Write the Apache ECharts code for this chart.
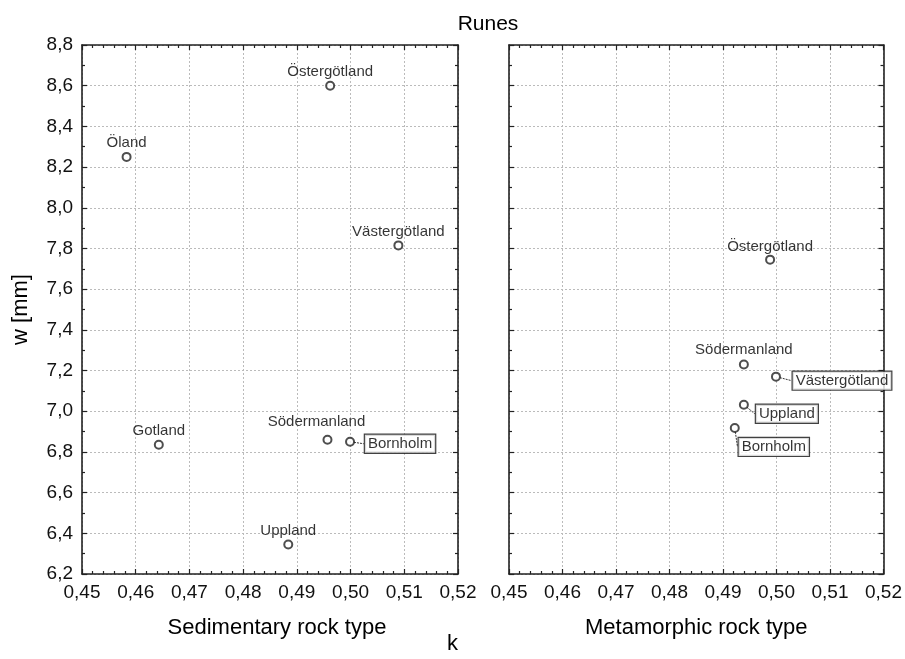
<!DOCTYPE html>
<html>
<head>
<meta charset="utf-8">
<script src="https://cdn.jsdelivr.net/npm/echarts@6/dist/echarts.min.js"></script>
<style>html,body{margin:0;padding:0;background:#fff}#c{width:905px;height:659px}</style>
</head>
<body>
<div id="c"></div>
<script>
// ---- data ----
var sedNames = ['Öland', 'Östergötland', 'Västergötland', 'Gotland', 'Södermanland', 'Bornholm', 'Uppland'];
var sedK     = [0.4583, 0.4962, 0.5089, 0.4643, 0.4957, 0.4999, 0.4884];
var sedW     = [8.25, 8.60, 7.815, 6.835, 6.86, 6.85, 6.345];

var metNames = ['Östergötland', 'Södermanland', 'Västergötland', 'Uppland', 'Bornholm'];
var metK     = [0.4988, 0.4939, 0.4999, 0.4939, 0.4922];
var metW     = [7.745, 7.23, 7.17, 7.032, 6.918];

var xTicks = [0.45, 0.46, 0.47, 0.48, 0.49, 0.50, 0.51, 0.52];
var yTicks = [6.2, 6.4, 6.6, 6.8, 7.0, 7.2, 7.4, 7.6, 7.8, 8.0, 8.2, 8.4, 8.6, 8.8];

// ---- label placement (offsets of label centre from point, px; boxed?) ----
var sedPlace = {
  'Öland': [0, -14, false], 'Östergötland': [0, -14, false], 'Västergötland': [0, -14, false],
  'Gotland': [0, -14, false], 'Södermanland': [-11, -18, false], 'Bornholm': [50, 2, true], 'Uppland': [0, -14, false]
};
var metPlace = {
  'Östergötland': [0, -13, false], 'Södermanland': [0, -15, false], 'Västergötland': [66, 4, true],
  'Uppland': [43, 9, true], 'Bornholm': [39, 19, true]
};

var FONT = '"Liberation Sans", Arial, sans-serif';
var chart = echarts.init(document.getElementById('c'), null, {renderer: 'canvas'});

function fmt(d) { return function (v) { return v.toFixed(d).replace('.', ','); }; }

function buildData(names, ks, ws, place) {
  return names.map(function (n, i) {
    var p = place[n];
    var label = {show: true, formatter: n, fontSize: 15, fontFamily: FONT, color: '#000'};
    if (p[2]) {
      label.borderColor = '#111'; label.borderWidth = 1.2; label.padding = [2, 3, 1, 3];
      label.backgroundColor = '#fff';
    }
    return {name: n, value: [ks[i], ws[i]], label: label,
      labelLine: {show: p[2], length2: 0, lineStyle: {color: '#333', width: 1, type: [2, 1]}}};
  });
}

function layoutFn(names, place) {
  return function (params) {
    var p = place[names[params.dataIndex]];
    var r = params.rect;
    return {x: r.x + r.width / 2 + p[0], y: r.y + r.height / 2 + p[1], align: 'center', verticalAlign: 'middle'};
  };
}

var grids = [
  {left: 82, top: 45, width: 376, height: 529},
  {left: 509, top: 45, width: 377, height: 529}
];

var AX = '#222';
var xAxes = [], yAxes = [];
[0, 1].forEach(function (g) {
  var names = ['Sedimentary rock type', 'Metamorphic rock type'];
  xAxes.push({
    type: 'value', gridIndex: g, min: xTicks[0], max: xTicks[xTicks.length - 1], interval: 0.01,
    position: 'bottom',
    axisLine: {show: true, lineStyle: {color: AX, width: 1.6}},
    axisTick: {show: true, inside: true, length: 5, lineStyle: {color: AX, width: 1.2}},
    minorTick: {show: true, splitNumber: 5, length: 3, lineStyle: {color: AX, width: 1.2}},
    splitLine: {show: true, lineStyle: {color: '#bbb', type: [2, 2], width: 1}},
    axisLabel: {formatter: fmt(2), fontSize: 19, fontFamily: FONT, color: '#111', margin: 9},
    name: names[g], nameLocation: 'middle', nameGap: 43,
    nameTextStyle: {fontSize: 22, fontFamily: FONT, color: '#000', padding: g === 0 ? [0, 0, 0, 14] : 0}
  });
  xAxes.push({
    type: 'value', gridIndex: g, min: xTicks[0], max: xTicks[xTicks.length - 1], interval: 0.01,
    position: 'top',
    axisLine: {show: true, lineStyle: {color: AX, width: 1.6}},
    axisTick: {show: true, inside: true, length: 5, lineStyle: {color: AX, width: 1.2}},
    minorTick: {show: true, splitNumber: 5, length: 3, lineStyle: {color: AX, width: 1.2}},
    splitLine: {show: false}, axisLabel: {show: false}
  });
  yAxes.push({
    type: 'value', gridIndex: g, min: yTicks[0], max: yTicks[yTicks.length - 1], interval: 0.2,
    position: 'left',
    axisLine: {show: true, lineStyle: {color: AX, width: 1.6}},
    axisTick: {show: true, inside: true, length: 5, lineStyle: {color: AX, width: 1.2}},
    minorTick: {show: true, splitNumber: 2, length: 3, lineStyle: {color: AX, width: 1.2}},
    splitLine: {show: true, lineStyle: {color: '#bbb', type: [2, 2], width: 1}},
    axisLabel: {show: g === 0, formatter: fmt(1), fontSize: 19, fontFamily: FONT, color: '#111', margin: 9},
    name: g === 0 ? 'w [mm]' : '', nameLocation: 'middle', nameGap: 50,
    nameTextStyle: {fontSize: 22, fontFamily: FONT, color: '#000'}
  });
  yAxes.push({
    type: 'value', gridIndex: g, min: yTicks[0], max: yTicks[yTicks.length - 1], interval: 0.2,
    position: 'right',
    axisLine: {show: true, lineStyle: {color: AX, width: 1.6}},
    axisTick: {show: true, inside: true, length: 5, lineStyle: {color: AX, width: 1.2}},
    minorTick: {show: true, splitNumber: 2, length: 3, lineStyle: {color: AX, width: 1.2}},
    splitLine: {show: false}, axisLabel: {show: false}
  });
});

var option = {
  backgroundColor: '#fff',
  animation: false,
  title: {text: 'Runes', left: 483, top: 9, textAlign: 'center',
    textStyle: {fontSize: 21, fontWeight: 'normal', fontFamily: FONT, color: '#000'}},
  grid: grids,
  xAxis: xAxes,
  yAxis: yAxes,
  graphic: [{type: 'text', left: 447, top: 633, style: {text: 'k', fontSize: 22, fontFamily: FONT, fill: '#000'}}],
  series: [
    {type: 'scatter', xAxisIndex: 0, yAxisIndex: 0, symbol: 'emptyCircle', symbolSize: 8,
      itemStyle: {color: '#222', borderColor: '#222', borderWidth: 1.4},
      data: buildData(sedNames, sedK, sedW, sedPlace), labelLayout: layoutFn(sedNames, sedPlace)},
    {type: 'scatter', xAxisIndex: 2, yAxisIndex: 2, symbol: 'emptyCircle', symbolSize: 8,
      itemStyle: {color: '#222', borderColor: '#222', borderWidth: 1.4},
      data: buildData(metNames, metK, metW, metPlace), labelLayout: layoutFn(metNames, metPlace)}
  ]
};
chart.setOption(option);
</script>
</body>
</html>
